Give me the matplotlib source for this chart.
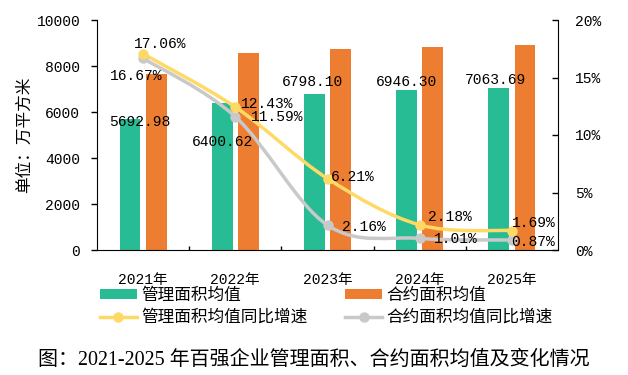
import matplotlib
matplotlib.use('Agg')
import matplotlib.pyplot as plt
from matplotlib.path import Path
from matplotlib.patches import PathPatch, Patch
from matplotlib.lines import Line2D
from matplotlib.ticker import FuncFormatter, MultipleLocator

# data
years = ['2021年', '2022年', '2023年', '2024年', '2025年']
mgmt_area = [5692.98, 6400.62, 6798.10, 6946.30, 7063.69]
contract_area = [7660, 8550, 8735, 8823, 8900]
mgmt_growth = [17.06, 12.43, 6.21, 2.18, 1.69]
contract_growth = [16.67, 11.59, 2.16, 1.01, 0.87]

GREEN = '#27BC94'
ORANGE = '#ED7D31'
YELLOW = '#FFD966'
GRAY = '#C9C9C9'
NUM = ['Liberation Mono', 'Noto Sans CJK SC']
CJK = ['Noto Sans CJK SC', 'DejaVu Sans']
PX = 0.72  # points per pixel at dpi 100

# label offsets (pixels, +y is down) relative to the bar top / point
bar_lbl_off = [(9.5, 3), (0.5, 39), (-2, -11.5), (0, -8), (-3, -8)]
mg_lbl_off = [(17, -10), (32, -3), (25, -2), (30, -8), (22, -8)]
cg_lbl_off = [(-6.5, 18), (42, 0), (36, 2), (36, 0.5), (21.5, 2)]


def smooth_path(xs, ys):
    # excel-like smoothed line: catmull-rom turned into cubic beziers
    n = len(xs)
    verts = [(xs[0], ys[0])]
    codes = [Path.MOVETO]
    for i in range(n - 1):
        x0, y0 = (xs[i - 1], ys[i - 1]) if i > 0 else (xs[i], ys[i])
        x3, y3 = (xs[i + 2], ys[i + 2]) if i + 2 < n else (xs[i + 1], ys[i + 1])
        c1 = (xs[i] + (xs[i + 1] - x0) / 6, ys[i] + (ys[i + 1] - y0) / 6)
        c2 = (xs[i + 1] - (x3 - xs[i]) / 6, ys[i + 1] - (y3 - ys[i]) / 6)
        verts += [c1, c2, (xs[i + 1], ys[i + 1])]
        codes += [Path.CURVE4] * 3
    return Path(verts, codes)


fig = plt.figure(figsize=(6.28, 3.75), dpi=100)
ax = fig.add_axes([97 / 628, 1 - 250 / 375, 461 / 628, 230 / 375])
x = list(range(len(years)))

ax.bar([i - 0.142 for i in x], mgmt_area, width=0.224, color=GREEN, zorder=2)
ax.bar([i + 0.142 for i in x], contract_area, width=0.224, color=ORANGE, zorder=2)

ax.set_xlim(-0.5, 4.5)
ax.set_ylim(0, 10000)
ax.yaxis.set_major_locator(MultipleLocator(2000))
ax.set_xticks(x)
ax.set_xticklabels(years)
ax.set_xticks([0.5, 1.5, 2.5, 3.5], minor=True)
ax.tick_params(axis='x', which='major', length=0, pad=16.5)
ax.tick_params(axis='x', which='minor', length=3, direction='in', width=1)
ax.tick_params(axis='y', direction='out', length=4, width=1, pad=8)
for lab in ax.get_xticklabels() + ax.get_yticklabels():
    lab.set_family(NUM)
    lab.set_fontsize(10.5)
for s in ['top', 'right']:
    ax.spines[s].set_visible(False)
ax.set_ylabel('单位：万平方米', fontsize=12, family=CJK)
ax.yaxis.set_label_coords(-0.139, 0.5)

for i, v in enumerate(mgmt_area):
    dx, dy = bar_lbl_off[i]
    ax.annotate(f'{v:.2f}', (i - 0.142, v), xytext=(dx * PX, -dy * PX),
                textcoords='offset points', ha='center', va='center',
                family=NUM, fontsize=10.5, zorder=5)

ax2 = ax.twinx()
ax2.set_ylim(0, 20)
ax2.yaxis.set_major_locator(MultipleLocator(5))
ax2.yaxis.set_major_formatter(FuncFormatter(lambda v, p: f'{v:.0f}%'))
ax2.tick_params(axis='y', direction='in', length=4, width=1, pad=12)
for lab in ax2.get_yticklabels():
    lab.set_family(NUM)
    lab.set_fontsize(10.5)
for s in ['top', 'left', 'bottom']:
    ax2.spines[s].set_visible(False)

for vals, col, offs in [(contract_growth, GRAY, cg_lbl_off),
                        (mgmt_growth, YELLOW, mg_lbl_off)]:
    ax2.add_patch(PathPatch(smooth_path(x, vals), facecolor='none',
                            edgecolor=col, lw=2.5, capstyle='round'))
    ax2.plot(x, vals, linestyle='none', marker='o', ms=6.5, color=col)
    for i, v in enumerate(vals):
        dx, dy = offs[i]
        ax2.annotate(f'{v:.2f}%', (i, v), xytext=(dx * PX, -dy * PX),
                     textcoords='offset points', ha='center', va='center',
                     family=NUM, fontsize=10.5)

handles = [Patch(facecolor=GREEN),
           Line2D([], [], color=YELLOW, lw=2.5, marker='o', ms=6.5),
           Patch(facecolor=ORANGE),
           Line2D([], [], color=GRAY, lw=2.5, marker='o', ms=6.5)]
labels = ['管理面积均值', '管理面积均值同比增速', '合约面积均值', '合约面积均值同比增速']
fig.legend(handles, labels, ncol=2, loc='center left',
           bbox_to_anchor=(100 / 628, 1 - 306.5 / 375), frameon=False,
           borderpad=0, borderaxespad=0, handlelength=2.2, handleheight=0.5,
           handletextpad=0.25, columnspacing=2.3, labelspacing=0.3,
           prop={'family': CJK, 'size': 12})

fig.text(0.5, 1 - 360 / 375, '图：2021-2025 年百强企业管理面积、合约面积均值及变化情况',
         ha='center', va='center', fontsize=14.4,
         family=['Liberation Serif', 'Noto Sans CJK SC'])

fig.savefig('out.png', dpi=100)
